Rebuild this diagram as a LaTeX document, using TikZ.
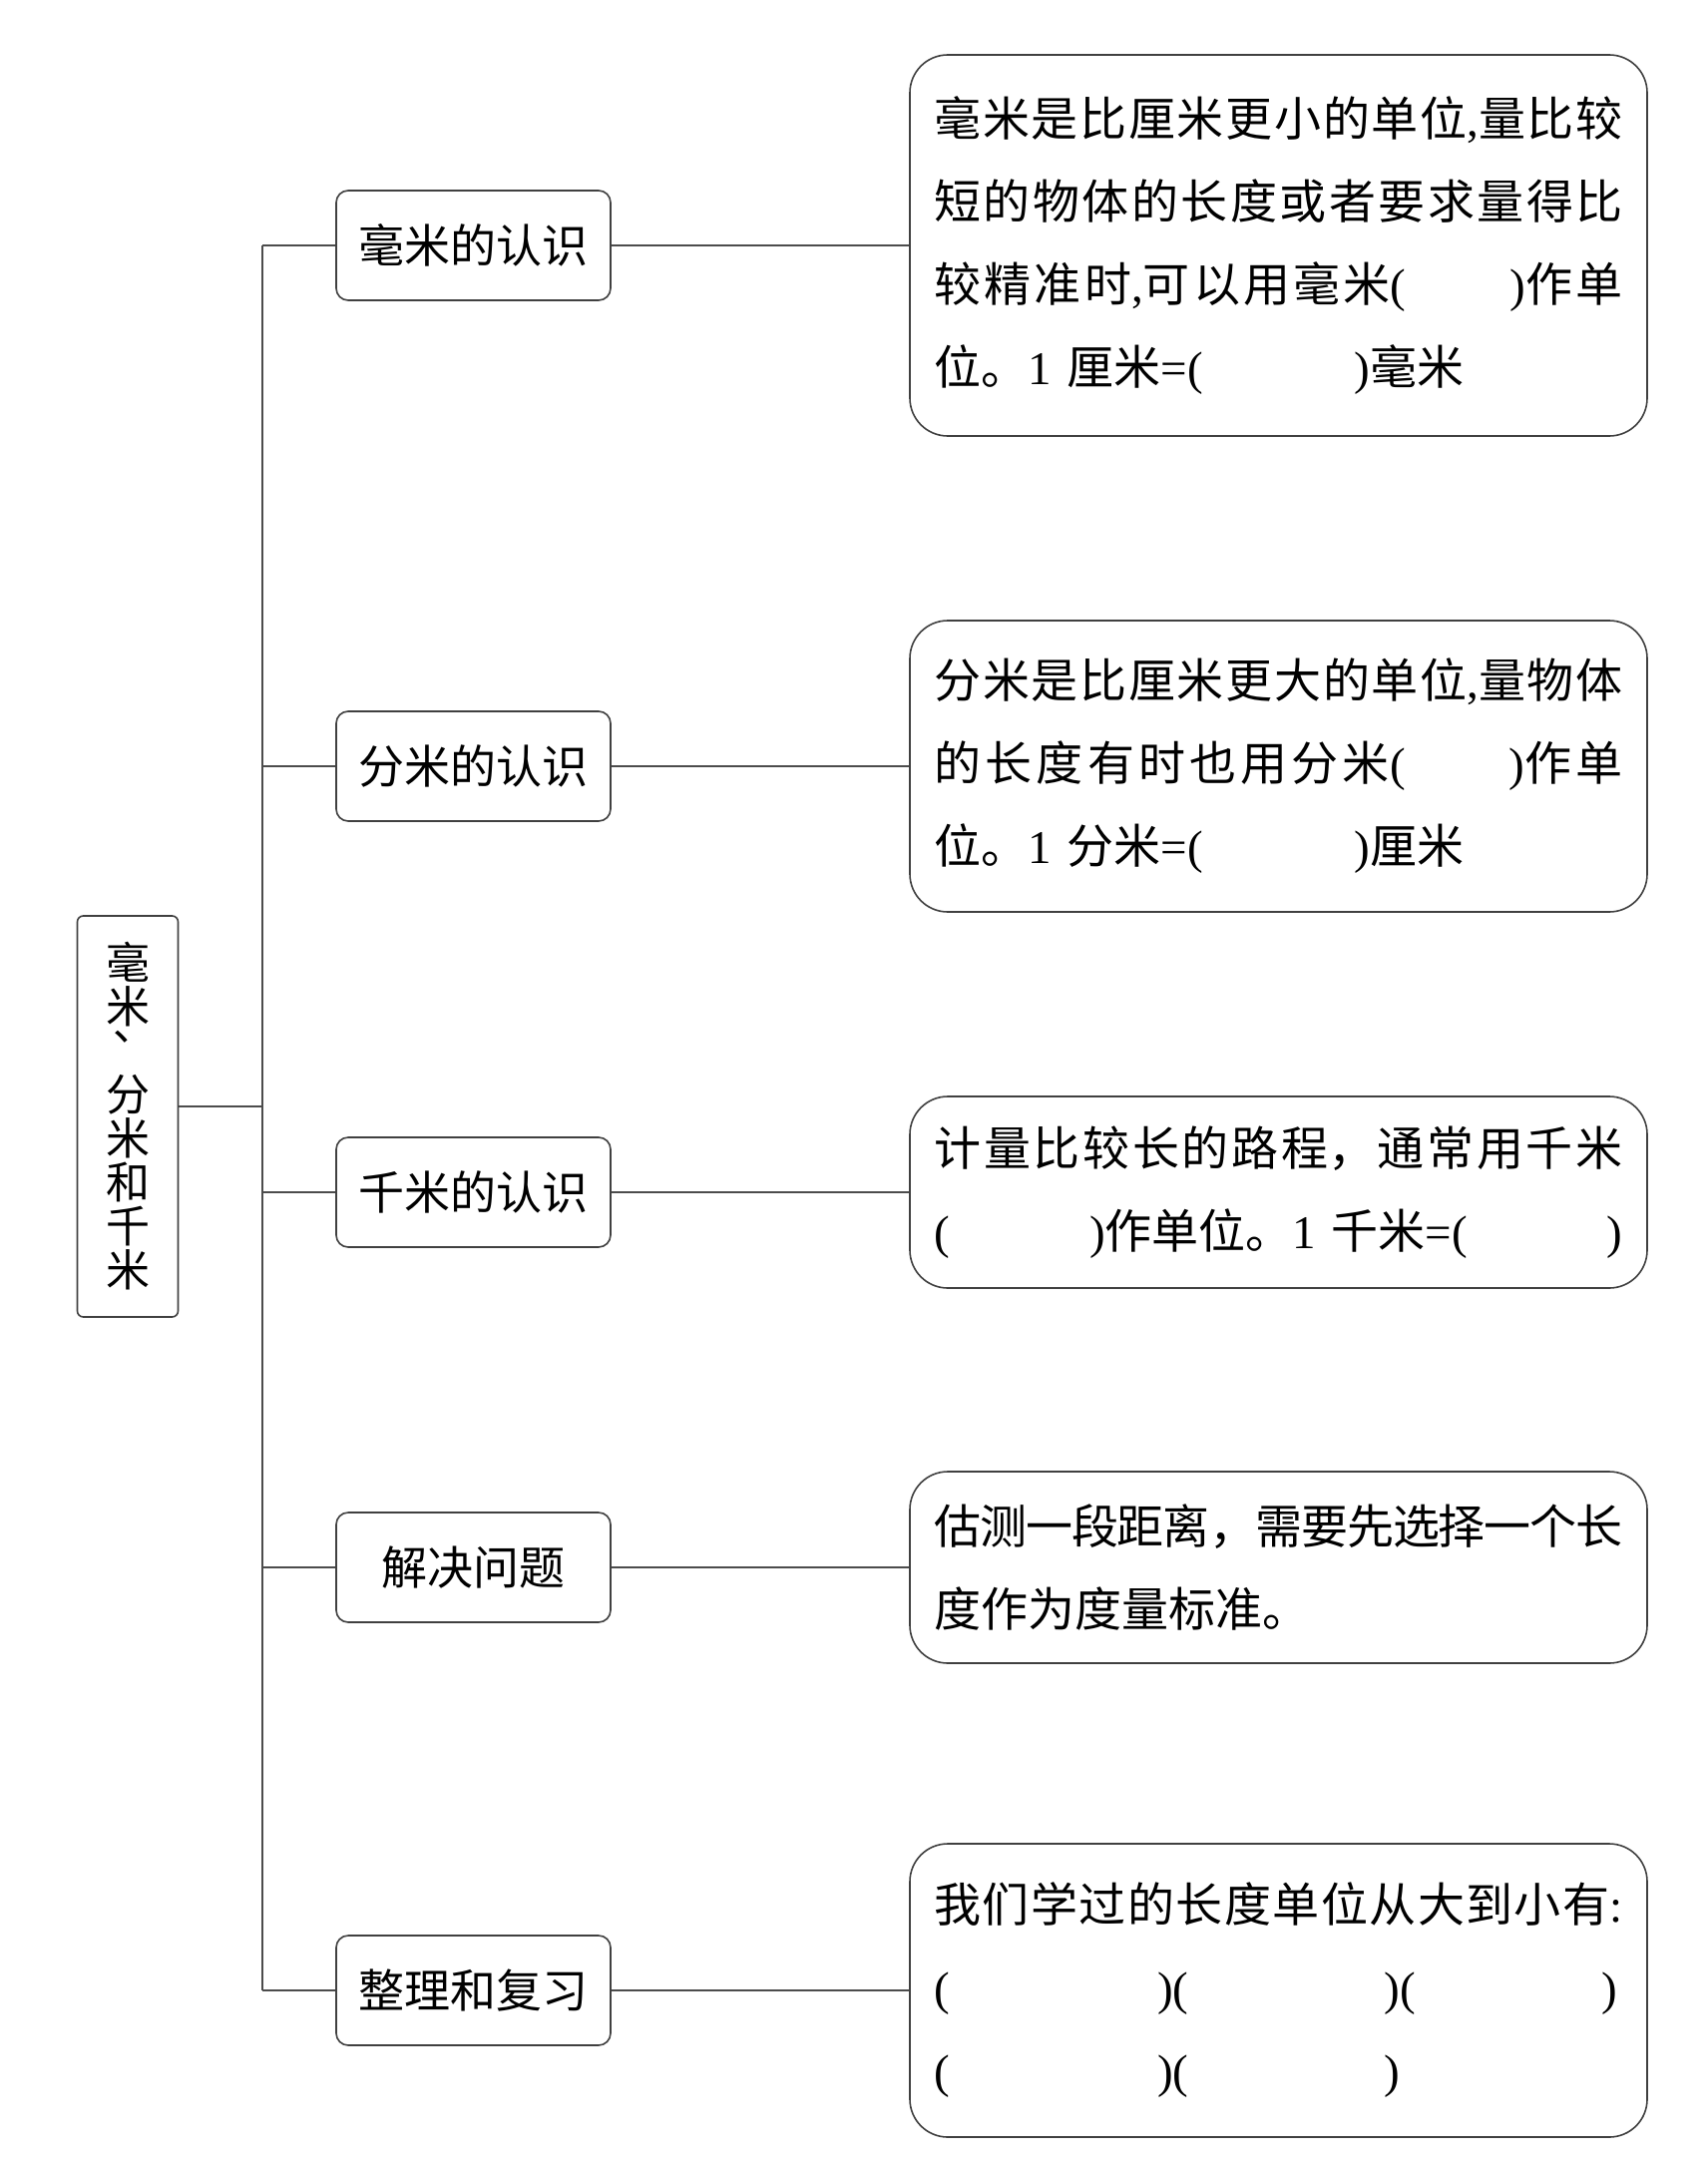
\documentclass[tikz,border=0pt]{standalone}
\usepackage{fontspec}
\setmainfont{Liberation Serif}
\newfontfamily\cjk{Noto Sans CJK SC}
\newcommand\latn[1]{{\rmfamily #1}}
\XeTeXlinebreaklocale "zh"
\XeTeXlinebreakskip=0pt plus 12pt minus 1.6pt
\newcommand\fullln[1]{#1\par}
\newcommand\partln[1]{#1\hfill\null\par}
\newcommand\jset{\parindent=0pt\leftskip=0pt\rightskip=0pt\parfillskip=0pt\relax}
\begin{document}
\begin{tikzpicture}[x=1pt,y=-1pt,
  lbox/.style={draw=black!75, line width=1.6pt, rounded corners=12pt,
    minimum width=275pt, minimum height=110pt, inner sep=0pt,
    font={\cjk\fontsize{46}{55}\selectfont}},
  dbox/.style={draw=black!75, line width=1.6pt, rounded corners=38pt,
    text width=690pt, inner xsep=24.5pt, inner ysep=0pt,
    font={\cjk\fontsize{47}{83}\selectfont}},
  rootbox/.style={draw=black!75, line width=1.6pt, rounded corners=6pt,
    minimum width=101pt, minimum height=402pt, inner sep=0pt, align=center,
    font={\cjk\fontsize{44}{44}\selectfont}},
  conn/.style={draw=black!70, line width=1.4pt}]
\useasboundingbox (0,0) rectangle (1712,2170);
\fill[white] (0,0) rectangle (1712,2170);

% root
\node[rootbox] (root) at (128,1119) {毫\\米\\\makebox[44pt][l]{\hspace{-20pt}︑}\\分\\米\\和\\千\\米};

% left boxes
\node[lbox] (lb1) at (474.5,246) {毫米的认识};
\node[lbox] (lb2) at (474.5,768) {分米的认识};
\node[lbox] (lb3) at (474.5,1195) {千米的认识};
\node[lbox] (lb4) at (474.5,1571) {解决问题};
\node[lbox] (lb5) at (474.5,1995) {整理和复习};

% detail boxes
\node[dbox, minimum height=382pt] (db1) at (1281.5,246) {\jset
\fullln{毫米是比厘米更小的单位\latn{,}量比较}
\fullln{短的物体的长度或者要求量得比}
\fullln{较精准时\latn{,}可以用毫米\latn{(}\hspace{104pt}\latn{)}作单}
\partln{位。\latn{1 }厘米\latn{=(}\hspace{152pt}\latn{)}毫米}};

\node[dbox, minimum height=292pt] (db2) at (1281.5,768) {\jset
\fullln{分米是比厘米更大的单位\latn{,}量物体}
\fullln{的长度有时也用分米\latn{(}\hspace{104pt}\latn{)}作单}
\partln{位。\latn{1 }分米\latn{=(}\hspace{152pt}\latn{)}厘米}};

\node[dbox, minimum height=192pt] (db3) at (1281.5,1195) {\jset
\fullln{计量比较长的路程，通常用千米}
\fullln{\latn{(}\hspace{140pt}\latn{)}作单位。\latn{1 }千米\latn{=(}\hspace{140pt}\latn{)}}};

\node[dbox, minimum height=192pt] (db4) at (1281.5,1571) {\jset
\fullln{估测一段距离，需要先选择一个长}
\partln{度作为度量标准。}};

\node[dbox, minimum height=294pt] (db5) at (1281.5,1995) {\jset
\fullln{我们学过的长度单位从大到小有\latn{:}}
\partln{\latn{(}\hspace{208pt}\latn{)(}\hspace{196pt}\latn{)(}\hspace{187pt}\latn{)}}
\partln{\latn{(}\hspace{208pt}\latn{)(}\hspace{196pt}\latn{)}}};

% trunk and connectors
\coordinate (t1) at (263,246);
\coordinate (t2) at (263,768);
\coordinate (t3) at (263,1195);
\coordinate (t4) at (263,1571);
\coordinate (t5) at (263,1995);
\coordinate (rt) at (263,1109);
\draw[conn] (t1) -- (t5);
\draw[conn] (root.east |- rt) -- (rt);
\foreach \i in {1,...,5}{
  \draw[conn] (t\i) -- (lb\i.west);
  \draw[conn] (lb\i.east) -- (db\i.west);
}
\end{tikzpicture}
\end{document}
